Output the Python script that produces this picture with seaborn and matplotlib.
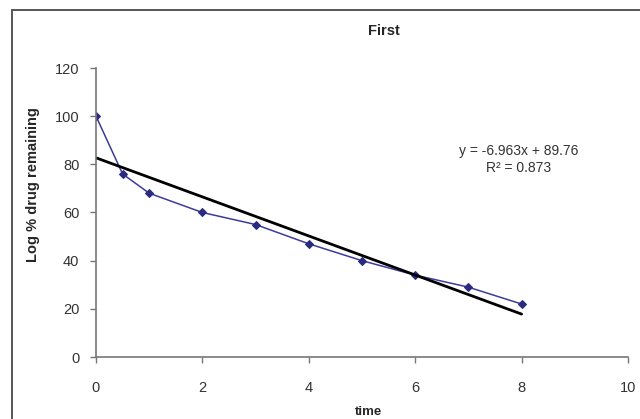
import matplotlib.pyplot as plt
import seaborn as sns
import pandas as pd
import numpy as np

sns.set_theme(style="white")
plt.rcParams['font.family'] = ['Liberation Sans', 'DejaVu Sans']

# data
time = [0, 0.5, 1, 2, 3, 4, 5, 6, 7, 8]
drug = [100, 76, 68, 60, 55, 47, 40, 34, 29, 22]
equation = "y = -6.963x + 89.76\nR² = 0.873"
title = "First"

df = pd.DataFrame({'time': time, 'Log % drug remaining': drug})

fig = plt.figure(figsize=(6.4, 4.19), dpi=100)
ax = fig.add_axes([96/640, 1-357/419, (628-96)/640, (357-68)/419])

# outer chart frame (runs off the right and bottom edges)
fig.add_artist(plt.Line2D([12/640, 12/640], [0, 1-10/419], color='#555555', lw=1.4))
fig.add_artist(plt.Line2D([12/640, 1], [1-10/419, 1-10/419], color='#555555', lw=1.4))

sns.lineplot(data=df, x='time', y='Log % drug remaining', ax=ax,
             color='#3b3b9e', lw=1.1, marker='D', markersize=4,
             markeredgecolor='#2a2a80', markerfacecolor='#2a2a80')
sns.regplot(data=df, x='time', y='Log % drug remaining', ax=ax, ci=None,
            scatter=False, truncate=True, line_kws={'color': 'black', 'lw': 2})

ax.set_xlim(0, 10)
ax.set_ylim(0, 120)
ax.set_xticks(range(0, 11, 2))
ax.set_yticks(range(0, 121, 20))
for s in ['top', 'right']:
    ax.spines[s].set_visible(False)
for s in ['left', 'bottom']:
    ax.spines[s].set_color('#777777')
    ax.spines[s].set_linewidth(1.2)
ax.tick_params(axis='both', which='major', direction='out', length=4, width=1,
               color='#777777', labelsize=10.5, labelcolor='#333333',
               bottom=True, left=True)
ax.tick_params(axis='x', pad=13)
ax.tick_params(axis='y', pad=8)
ax.set_xlabel('time', fontsize=9.5, fontweight='bold')
ax.set_ylabel('Log % drug remaining', fontsize=10.5, fontweight='bold')
ax.xaxis.set_label_coords(0.513, -0.17)
ax.yaxis.set_label_coords(-0.105, 0.595)

fig.text(384/640, 1-31/419, title, fontsize=10.5, fontweight='bold', ha='center', va='center')
ax.text(7.95, 82, equation, fontsize=10, color='#333333', ha='center', va='center',
        linespacing=1.35)

fig.savefig('out.png', dpi=100)
